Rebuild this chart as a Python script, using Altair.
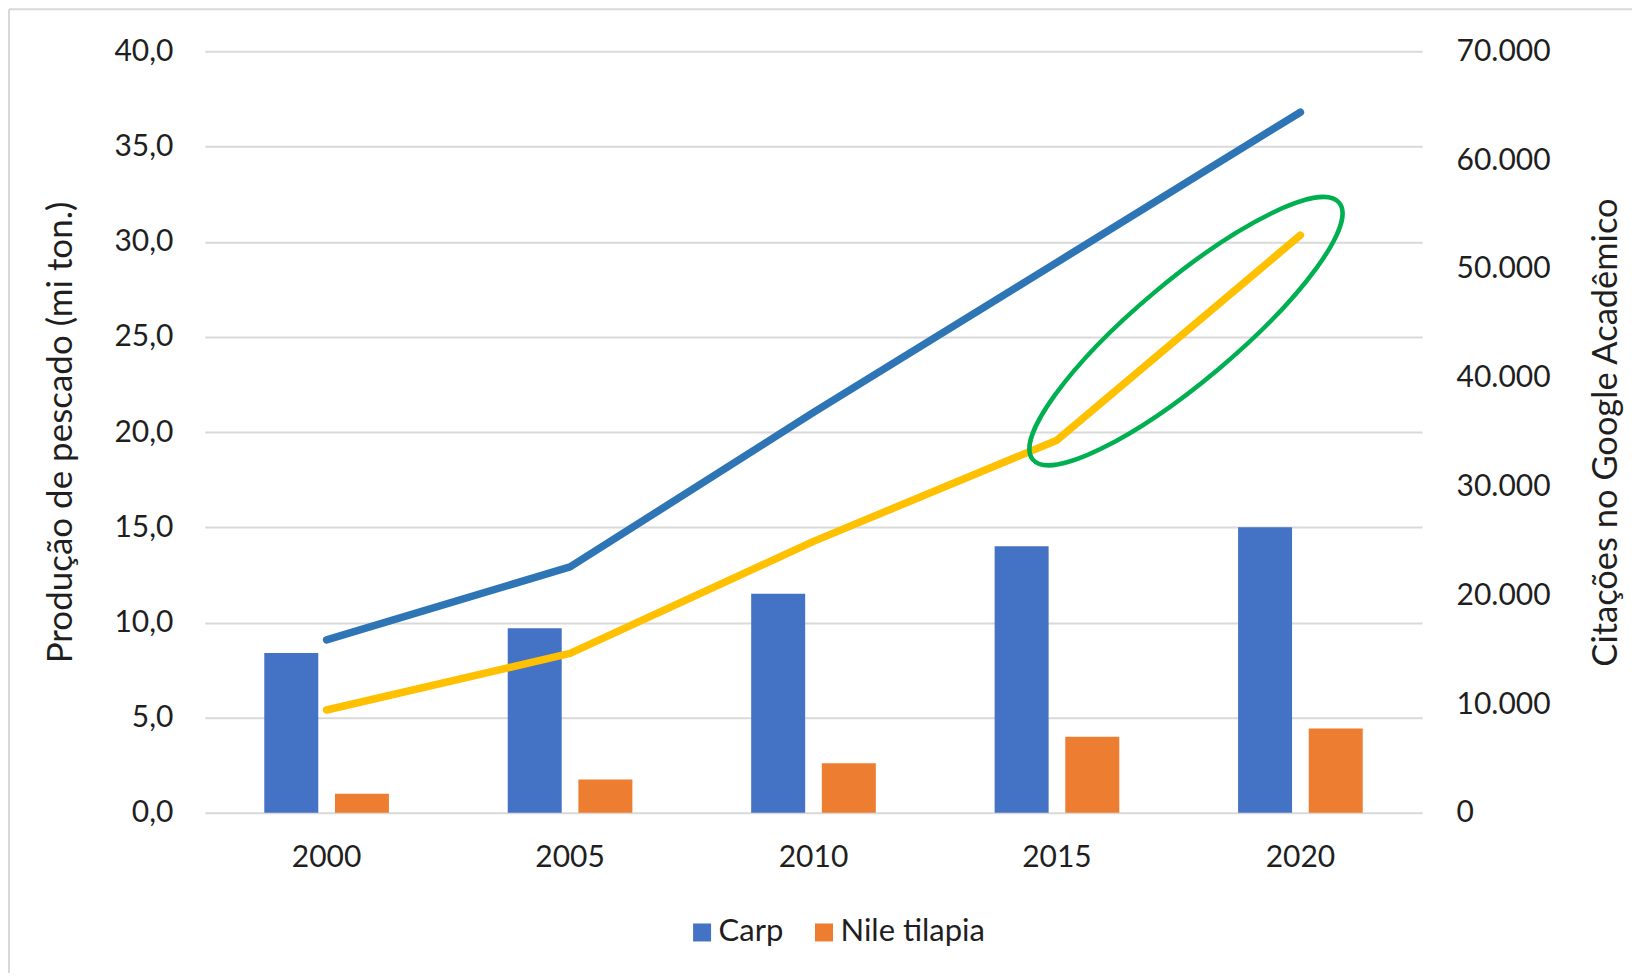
import altair as alt
import pandas as pd

years = ["2000", "2005", "2010", "2015", "2020"]
species = ["Carp", "Nile tilapia"]
carp_prod = [8.4, 9.7, 11.5, 14.0, 15.0]
tilapia_prod = [1.0, 1.75, 2.6, 4.0, 4.43]
lines = ["Carp citações", "Tilapia citações"]
carp_cit = [15900, 22600, 36800, 50600, 64400]
tilapia_cit = [9450, 14650, 24950, 34250, 53100]
left_ticks = [0, 5, 10, 15, 20, 25, 30, 35, 40]
right_ticks = [0, 10000, 20000, 30000, 40000, 50000, 60000, 70000]
# annotation ellipse (centre in category-index / left-axis units)
ell_x = [3.53]
ell_y = [25.3]

FONT = "Lato"
TXT = "#1f1f1f"
GRID = "#d9d9d9"

bars_df = pd.DataFrame({
    "year": years * 2,
    "species": [species[0]] * 5 + [species[1]] * 5,
    "prod": carp_prod + tilapia_prod,
})
lines_df = pd.DataFrame({
    "year": years * 2,
    "serie": [lines[0]] * 5 + [lines[1]] * 5,
    "cit": carp_cit + tilapia_cit,
})
ell_df = pd.DataFrame({"x": ell_x, "y": ell_y})

xscale = alt.Scale(domain=years, paddingInner=0.488, paddingOuter=0.244)

bars = alt.Chart(bars_df).mark_bar().encode(
    x=alt.X("year:N", scale=xscale, sort=years,
            axis=alt.Axis(title=None, labelAngle=0, labelFontSize=30, labelColor=TXT,
                          labelFont=FONT, labelPadding=30, ticks=False, domain=False, grid=False)),
    xOffset=alt.XOffset("species:N", sort=species,
                        scale=alt.Scale(domain=species, paddingInner=0.236, paddingOuter=0)),
    y=alt.Y("prod:Q", scale=alt.Scale(domain=[0, 40], nice=False),
            axis=alt.Axis(values=left_ticks,
                          labelExpr="replace(format(datum.value, '.1f'), '.', ',')",
                          title="Produção de pescado (mi ton.)", titleFontSize=35,
                          titleFont=FONT, titleColor=TXT, titleFontWeight="normal",
                          titlePadding=35, labelFontSize=30, labelFont=FONT, labelColor=TXT,
                          labelPadding=32, ticks=False, domain=False, grid=True,
                          gridColor=GRID, gridWidth=2)),
    color=alt.Color("species:N", sort=species,
                    scale=alt.Scale(domain=species, range=["#4472C4", "#ED7D31"]),
                    legend=alt.Legend(title=None, orient="none", legendX=482, legendY=866,
                                      direction="horizontal", symbolType="square",
                                      symbolSize=324, symbolStrokeWidth=0,
                                      labelFontSize=31, labelFont=FONT, labelColor=TXT,
                                      columnPadding=25, labelOffset=1, padding=0)),
)

line_layer = alt.Chart(lines_df).mark_line(strokeWidth=7.5, strokeCap="round",
                                           strokeJoin="round").encode(
    x=alt.X("year:N", scale=xscale, sort=years, axis=None),
    y=alt.Y("cit:Q", scale=alt.Scale(domain=[0, 70000], nice=False),
            axis=alt.Axis(orient="right", values=right_ticks,
                          labelExpr="replace(format(datum.value, ','), ',', '.')",
                          title="Citações no Google Acadêmico", titleFontSize=34.5,
                          titleFont=FONT, titleColor=TXT, titleFontWeight="normal",
                          titleAngle=270, titleBaseline="top", titlePadding=39,
                          labelFontSize=30, labelFont=FONT, labelColor=TXT,
                          labelPadding=34, ticks=False, domain=False, grid=False)),
    color=alt.Color("serie:N", sort=lines,
                    scale=alt.Scale(domain=lines, range=["#2E75B6", "#FFC000"]),
                    legend=None),
    detail="serie:N",
)

k = 0.5523
b = 0.25
bk = round(b * k, 4)
ellipse_path = (f"M -1 0 C -1 -{bk} -{k} -{b} 0 -{b} "
                f"C {k} -{b} 1 -{bk} 1 0 "
                f"C 1 {bk} {k} {b} 0 {b} "
                f"C -{k} {b} -1 {bk} -1 0 Z")

ellipse = alt.Chart(ell_df).mark_point(
    shape=ellipse_path, size=400 * 400, angle=320, filled=False,
    color="#00B050", strokeWidth=4.5, opacity=1,
).encode(
    x=alt.X("x:Q", scale=alt.Scale(domain=[-0.5, 4.5], nice=False, zero=False), axis=None),
    y=alt.Y("y:Q", scale=alt.Scale(domain=[0, 40], nice=False), axis=None),
)

one = pd.DataFrame({"a": [0]})
border_left = alt.Chart(one).mark_rule(color=GRID, strokeWidth=2).encode(
    x=alt.value(-196), y=alt.value(-42), y2=alt.value(960))
border_top = alt.Chart(one).mark_rule(color=GRID, strokeWidth=2).encode(
    x=alt.value(-196), x2=alt.value(1440), y=alt.value(-42))

chart = alt.layer(border_left, border_top, bars, line_layer, ellipse).resolve_scale(
    x="independent", y="independent", color="independent"
).properties(
    width=1218, height=762,
    autosize=alt.AutoSizeParams(type="none"),
    padding={"left": 197, "top": 43, "right": 210, "bottom": 160},
    background="white",
).configure(font=FONT, view=alt.ViewConfig(stroke=None))

chart.save("out.html", embed_options={"renderer": "svg", "actions": False})
